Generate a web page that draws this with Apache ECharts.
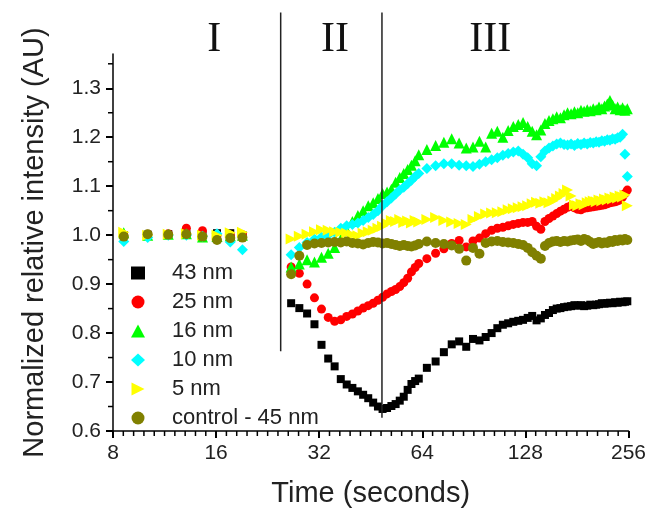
<!DOCTYPE html>
<html>
<head>
<meta charset="utf-8">
<script src="https://cdn.jsdelivr.net/npm/echarts@6/dist/echarts.min.js"></script>
<style>
  html, body { margin: 0; padding: 0; background: #fff; }
  #chart { width: 649px; height: 513px; }
</style>
</head>
<body>
<div id="chart"></div>
<script>
// series names and colours
const names = ["43 nm", "25 nm", "16 nm", "10 nm", "5 nm", "control - 45 nm"];

// time (s): phase I samples, then phase II / III samples
const timesI = [8.6, 10.1, 11.6, 13.1, 14.6, 16.1, 17.6, 19.1];
const timesII = [26.5, 28, 29.5, 31, 32.5, 34, 35.5, 37, 38.5, 40, 41.5, 43, 44.5, 46, 47.5, 49, 50.5, 52, 53.5, 55, 56.5, 58, 59.5, 61, 62.5,
  66, 70, 74, 78, 82, 86, 90, 94, 98, 102, 106, 110, 114, 118, 122, 126, 130, 134, 138, 142, 146, 150, 154, 158, 162, 166, 170, 174, 178,
  182, 186, 190, 194, 198, 202, 206, 210, 214, 218, 222, 226, 230, 234, 238, 242, 246, 250, 254];

const nm43I = [1.000, 1.001, 1.002, 1.003, 1.001, 1.004, 1.004, 1.000];
const nm43II = [0.861, 0.851, 0.840, 0.818, 0.776, 0.748, 0.732, 0.706, 0.695, 0.688, 0.681, 0.674, 0.667, 0.658, 0.650, 0.645, 0.647, 0.651, 0.655, 0.662, 0.670, 0.684, 0.696, 0.702, 0.707,
  0.729, 0.742, 0.761, 0.777, 0.783, 0.772, 0.788, 0.785, 0.792, 0.800, 0.810, 0.817, 0.820, 0.823, 0.825, 0.827, 0.831, 0.835, 0.826, 0.830, 0.837, 0.841, 0.847, 0.850, 0.851, 0.853, 0.854, 0.855,
  0.857, 0.856, 0.857, 0.855, 0.856, 0.858, 0.857, 0.858, 0.859, 0.861, 0.860, 0.861, 0.862, 0.861, 0.863, 0.862, 0.864, 0.863, 0.864, 0.865];

const nm25I = [1.000, 1.002, 1.003, 1.014, 1.009, 1.000, 1.000, 1.001];
const nm25II = [0.935, 0.922, 0.900, 0.872, 0.849, 0.832, 0.824, 0.827, 0.834, 0.839, 0.845, 0.851, 0.856, 0.861, 0.867, 0.873, 0.880, 0.885, 0.889, 0.895, 0.903, 0.912, 0.925, 0.934, 0.942,
  0.952, 0.963, 0.972, 0.983, 0.989, 0.976, 0.988, 0.994, 1.003, 1.010, 1.014, 1.016, 1.019, 1.022, 1.024, 1.026, 1.026, 1.028, 1.018, 1.012, 1.028, 1.034, 1.039, 1.044, 1.049, 1.053, 1.057, 1.060,
  1.056, 1.053, 1.052, 1.055, 1.056, 1.057, 1.058, 1.059, 1.060, 1.061, 1.062, 1.064, 1.066, 1.067, 1.068, 1.070, 1.072, 1.078, 1.085, 1.092];

const nm16I = [1.005, 1.000, 1.002, 1.003, 0.996, 0.997, 0.999, 1.000];
const nm16II = [0.935, 0.941, 0.950, 0.945, 0.955, 0.963, 0.975, 0.992, 1.010, 1.028, 1.040, 1.050, 1.060, 1.066, 1.075, 1.085, 1.088, 1.094, 1.108, 1.118, 1.126, 1.134, 1.143, 1.152, 1.164,
  1.175, 1.183, 1.190, 1.197, 1.188, 1.178, 1.180, 1.192, 1.180, 1.208, 1.212, 1.200, 1.214, 1.222, 1.226, 1.230, 1.222, 1.212, 1.205, 1.215, 1.228, 1.234, 1.238, 1.242, 1.240, 1.246, 1.250, 1.248,
  1.252, 1.250, 1.255, 1.253, 1.256, 1.254, 1.258, 1.256, 1.262, 1.258, 1.264, 1.268, 1.275, 1.266, 1.258, 1.262, 1.256, 1.260, 1.255, 1.258];

const nm10I = [0.987, 0.995, 1.000, 1.000, 0.998, 1.003, 0.986, 0.970];
const nm10II = [0.960, 0.975, 0.985, 0.992, 0.996, 1.000, 1.006, 1.014, 1.019, 1.022, 1.025, 1.030, 1.036, 1.042, 1.050, 1.060, 1.068, 1.076, 1.084, 1.092, 1.098, 1.105, 1.112, 1.120, 1.126,
  1.136, 1.142, 1.146, 1.146, 1.143, 1.142, 1.140, 1.145, 1.150, 1.154, 1.158, 1.163, 1.167, 1.170, 1.172, 1.165, 1.158, 1.146, 1.142, 1.160, 1.172, 1.178, 1.182, 1.186, 1.188, 1.185, 1.184, 1.186,
  1.183, 1.187, 1.185, 1.188, 1.186, 1.189, 1.188, 1.191, 1.190, 1.193, 1.192, 1.195, 1.194, 1.197, 1.196, 1.199, 1.200, 1.206, 1.165, 1.120];

const nm5I = [1.006, 1.000, 1.002, 1.003, 1.000, 1.000, 1.005, 1.006];
const nm5II = [0.992, 0.998, 1.002, 1.007, 1.011, 1.010, 1.007, 1.006, 1.004, 1.001, 0.999, 1.004, 1.007, 1.010, 1.014, 1.018, 1.024, 1.030, 1.028, 1.032, 1.026, 1.029, 1.025, 1.030, 1.027,
  1.032, 1.036, 1.030, 1.027, 1.024, 1.022, 1.032, 1.038, 1.043, 1.045, 1.046, 1.048, 1.052, 1.054, 1.056, 1.058, 1.060, 1.064, 1.067, 1.065, 1.068, 1.066, 1.070, 1.075, 1.080, 1.085, 1.092, 1.080,
  1.062, 1.060, 1.064, 1.062, 1.066, 1.068, 1.070, 1.068, 1.072, 1.070, 1.074, 1.072, 1.076, 1.074, 1.078, 1.076, 1.080, 1.078, 1.082, 1.060];

const ctrlI = [0.997, 1.002, 1.001, 1.002, 0.997, 0.990, 0.994, 0.995];
const ctrlII = [0.920, 0.958, 0.980, 0.983, 0.984, 0.985, 0.986, 0.985, 0.987, 0.984, 0.983, 0.981, 0.984, 0.986, 0.985, 0.983, 0.984, 0.982, 0.980, 0.978, 0.980, 0.978, 0.977, 0.979, 0.982,
  0.987, 0.984, 0.982, 0.979, 0.972, 0.948, 0.974, 0.962, 0.984, 0.987, 0.988, 0.986, 0.985, 0.984, 0.982, 0.980, 0.974, 0.965, 0.958, 0.952, 0.978, 0.984, 0.987, 0.988, 0.986, 0.988, 0.987, 0.989,
  0.990, 0.991, 0.988, 0.992, 0.990, 0.986, 0.982, 0.984, 0.986, 0.983, 0.985, 0.984, 0.988, 0.986, 0.990, 0.988, 0.991, 0.989, 0.992, 0.990];

const yTicks = [0.6, 0.7, 0.8, 0.9, 1.0, 1.1, 1.2, 1.3];
const yMinorTicks = [0.65, 0.75, 0.85, 0.95, 1.05, 1.15, 1.25, 1.35];
const phaseLines = [24.7, 48.8];
const phaseNames = ["I", "II", "III"];
const phaseNamePos = [15.8, 35.6, 101];

// x minor ticks: 10 equal steps per doubling of time
let xMinorTicks = [];
for (let k = 1; k < 50; k++) {
  if (k % 10 !== 0) xMinorTicks.push(8 * Math.pow(2, k / 10));
}

const times = timesI.concat(timesII);
const seriesValues = [
  nm43I.concat(nm43II), nm25I.concat(nm25II), nm16I.concat(nm16II),
  nm10I.concat(nm10II), nm5I.concat(nm5II), ctrlI.concat(ctrlII)
];
const colors = ["#000000", "#ff0000", "#00ff00", "#00ffff", "#ffff00", "#808000"];
const symbols = ["rect", "circle", "triangle", "diamond", "path://M0,0 L10,5 L0,10 Z", "circle"];
const sizes = [8, 9, 11, 11, 11, 10];

const FONT = "'Liberation Sans', Arial, sans-serif";

let chart = echarts.init(document.getElementById("chart"));
chart.setOption({
  animation: false,
  color: colors,
  grid: { left: 113, right: 19, top: 54, bottom: 81 },
  legend: {
    orient: "vertical",
    left: 126,
    top: 257,
    itemWidth: 14,
    itemHeight: 13,
    itemGap: 7,
    textStyle: { fontSize: 22, lineHeight: 22, color: "#222", fontFamily: FONT, padding: [0, 0, 0, 22] },
    data: names,
  },
  xAxis: {
    type: "log",
    logBase: 2,
    min: 8,
    max: 256,
    name: "Time (seconds)",
    nameLocation: "middle",
    nameGap: 48,
    nameTextStyle: { fontSize: 29, color: "#222", fontFamily: FONT },
    axisLine: { lineStyle: { color: "#000", width: 1.5 } },
    axisTick: { show: true, length: 7, lineStyle: { color: "#000", width: 2 } },
    axisLabel: { fontSize: 21, color: "#222", fontFamily: FONT, margin: 12 },
    splitLine: { show: false },
  },
  yAxis: {
    type: "value",
    min: 0.6,
    max: 1.37,
    interval: 0.1,
    name: "Normalized relative intensity (AU)",
    nameLocation: "middle",
    nameGap: 64,
    nameTextStyle: { fontSize: 29, color: "#222", fontFamily: FONT },
    axisLine: { show: true, lineStyle: { color: "#000", width: 1.5 } },
    axisTick: { show: true, length: 7, lineStyle: { color: "#000", width: 2 } },
    axisLabel: {
      fontSize: 21, color: "#222", fontFamily: FONT, margin: 12,
      showMaxLabel: false,
      formatter: (v) => v.toFixed(1),
    },
    splitLine: { show: false },
  },
  series: names.map((n, k) => ({
    name: n,
    type: "scatter",
    symbol: symbols[k],
    symbolSize: sizes[k],
    itemStyle: { color: colors[k], opacity: 1 },
    data: times.map((t, i) => [t, seriesValues[k][i]]),
  })),
});

// phase separators, phase labels and minor ticks, placed through the axes
function px(t, v) {
  return chart.convertToPixel({ xAxisIndex: 0, yAxisIndex: 0 }, [t, v]);
}
let graphics = [];
xMinorTicks.forEach((t) => {
  let p = px(t, 0.6);
  graphics.push({
    type: "line", z: 100,
    shape: { x1: p[0], y1: p[1], x2: p[0], y2: p[1] + 5 },
    style: { stroke: "#000", lineWidth: 1.5 },
  });
});
yMinorTicks.forEach((v) => {
  let p = px(8, v);
  graphics.push({
    type: "line", z: 100,
    shape: { x1: p[0] - 5, y1: p[1], x2: p[0], y2: p[1] },
    style: { stroke: "#000", lineWidth: 1.5 },
  });
});
const lineEnds = [0.763, 0.627];
phaseLines.forEach((t, i) => {
  let a = px(t, 1.455);
  let b = px(t, lineEnds[i]);
  graphics.push({
    type: "line", z: 100,
    shape: { x1: a[0], y1: a[1], x2: b[0], y2: b[1] },
    style: { stroke: "#222", lineWidth: 1.5 },
  });
});
phaseNames.forEach((s, i) => {
  let p = px(phaseNamePos[i], 1.398);
  graphics.push({
    type: "text",
    x: p[0],
    y: p[1],
    style: {
      text: s,
      font: "42px 'Liberation Serif', 'Times New Roman', serif",
      fill: "#111",
      align: "center",
      verticalAlign: "middle",
    },
  });
});
chart.setOption({ graphic: graphics });
</script>
</body>
</html>
